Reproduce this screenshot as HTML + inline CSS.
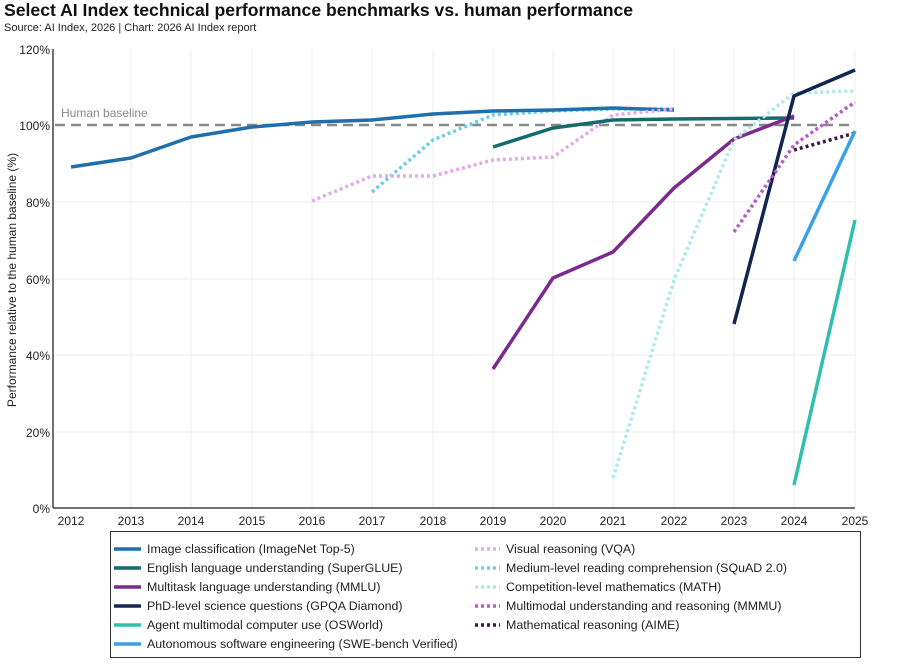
<!DOCTYPE html>
<html><head><meta charset="utf-8"><style>
body{margin:0;background:#fff;font-family:"Liberation Sans",sans-serif;}
</style></head><body>
<svg width="900" height="666" xmlns="http://www.w3.org/2000/svg" font-family="Liberation Sans, sans-serif">
<text x="4" y="16" font-size="17.6" font-weight="bold" fill="#111">Select AI Index technical performance benchmarks vs. human performance</text>
<text x="4" y="31" font-size="11" fill="#222">Source: AI Index, 2026 | Chart: 2026 AI Index report</text>
<g stroke="#eee" stroke-width="1">
<line x1="131" y1="49" x2="131" y2="508"/><line x1="191" y1="49" x2="191" y2="508"/><line x1="252" y1="49" x2="252" y2="508"/><line x1="312" y1="49" x2="312" y2="508"/><line x1="372" y1="49" x2="372" y2="508"/><line x1="433" y1="49" x2="433" y2="508"/><line x1="493" y1="49" x2="493" y2="508"/><line x1="553" y1="49" x2="553" y2="508"/><line x1="613" y1="49" x2="613" y2="508"/><line x1="674" y1="49" x2="674" y2="508"/><line x1="734" y1="49" x2="734" y2="508"/><line x1="794" y1="49" x2="794" y2="508"/><line x1="855" y1="49" x2="855" y2="508"/>
<line x1="53" y1="202" x2="855" y2="202"/><line x1="53" y1="279" x2="855" y2="279"/><line x1="53" y1="355" x2="855" y2="355"/><line x1="53" y1="432" x2="855" y2="432"/>
</g>
<line x1="53" y1="49" x2="53" y2="508" stroke="#444" stroke-width="1.5"/>
<line x1="53" y1="508" x2="855" y2="508" stroke="#444" stroke-width="1.5"/>
<g font-size="12" fill="#222" text-anchor="end">
<text x="50" y="54">120%</text><text x="50" y="130">100%</text><text x="50" y="207">80%</text><text x="50" y="284">60%</text><text x="50" y="360">40%</text><text x="50" y="437">20%</text><text x="50" y="513">0%</text>
</g>
<g font-size="12" fill="#222" text-anchor="middle">
<text x="71" y="525">2012</text><text x="131" y="525">2013</text><text x="191" y="525">2014</text><text x="252" y="525">2015</text><text x="312" y="525">2016</text><text x="372" y="525">2017</text><text x="433" y="525">2018</text><text x="493" y="525">2019</text><text x="553" y="525">2020</text><text x="613" y="525">2021</text><text x="674" y="525">2022</text><text x="734" y="525">2023</text><text x="794" y="525">2024</text><text x="855" y="525">2025</text>
</g>
<text transform="translate(16,280) rotate(-90)" font-size="12" fill="#222" text-anchor="middle">Performance relative to the human baseline (%)</text>
<text x="61" y="117" font-size="12" fill="#888">Human baseline</text>
<line x1="55" y1="125" x2="855" y2="125" stroke="#888" stroke-width="2.5" stroke-dasharray="10,6"/>
<g fill="none" stroke-linejoin="round" stroke-width="3.5">
<polyline stroke="#6ccde8" stroke-dasharray="3,3" points="372,192 433,140 493,115 553,111 613,109 674,109"/>
<polyline stroke="#1f6fad" points="71,167 131,158 191,137 252,127 312,122 372,120 433,114 493,111 553,110 613,108 674,110"/>
<polyline stroke="#e3a9ec" stroke-dasharray="3,3" points="312,201 372,176 433,176 493,160 553,157 613,115 674,109"/>
<polyline stroke="#136b6b" points="493,147 553,128 613,120 674,119 794,118"/>
<polyline stroke="#7b2a8e" points="493,369 553,278 613,252 674,188 734,139 794,116"/>
<polyline stroke="#aee9ea" stroke-dasharray="3,3" points="613,478 674,280 734,140 794,93 855,91"/>
<polyline stroke="#13254f" points="734,324 794,96 855,70"/>
<polyline stroke="#b65ac9" stroke-dasharray="3,3" points="734,232 794,145 855,102"/>
<polyline stroke="#3a1a3d" stroke-dasharray="3,3" points="794,150 855,133"/>
<polyline stroke="#3aa0e8" points="794,261 855,131"/>
<polyline stroke="#2ebfae" points="794,485 855,220"/>
</g>
<rect x="110.5" y="531.5" width="750" height="126" fill="none" stroke="#333" stroke-width="1"/>
<g stroke-width="3.5">
<line x1="114" y1="549" x2="141" y2="549" stroke="#1f6fad"/>
<line x1="114" y1="568" x2="141" y2="568" stroke="#136b6b"/>
<line x1="114" y1="587" x2="141" y2="587" stroke="#7b2a8e"/>
<line x1="114" y1="606" x2="141" y2="606" stroke="#13254f"/>
<line x1="114" y1="625" x2="141" y2="625" stroke="#2ebfae"/>
<line x1="114" y1="644" x2="141" y2="644" stroke="#3aa0e8"/>
<g stroke-dasharray="3,3">
<line x1="475" y1="549" x2="500" y2="549" stroke="#e3a9ec"/>
<line x1="475" y1="568" x2="500" y2="568" stroke="#6ccde8"/>
<line x1="475" y1="587" x2="500" y2="587" stroke="#aee9ea"/>
<line x1="475" y1="606" x2="500" y2="606" stroke="#b65ac9"/>
<line x1="475" y1="625" x2="500" y2="625" stroke="#3a1a3d"/>
</g></g>
<g font-size="12.4" fill="#222">
<text x="147" y="553">Image classification (ImageNet Top-5)</text>
<text x="147" y="572">English language understanding (SuperGLUE)</text>
<text x="147" y="591">Multitask language understanding (MMLU)</text>
<text x="147" y="610">PhD-level science questions (GPQA Diamond)</text>
<text x="147" y="629">Agent multimodal computer use (OSWorld)</text>
<text x="147" y="648">Autonomous software engineering (SWE-bench Verified)</text>
<text x="506" y="553">Visual reasoning (VQA)</text>
<text x="506" y="572">Medium-level reading comprehension (SQuAD 2.0)</text>
<text x="506" y="591">Competition-level mathematics (MATH)</text>
<text x="506" y="610">Multimodal understanding and reasoning (MMMU)</text>
<text x="506" y="629">Mathematical reasoning (AIME)</text>
</g>
</svg>
</body></html>
